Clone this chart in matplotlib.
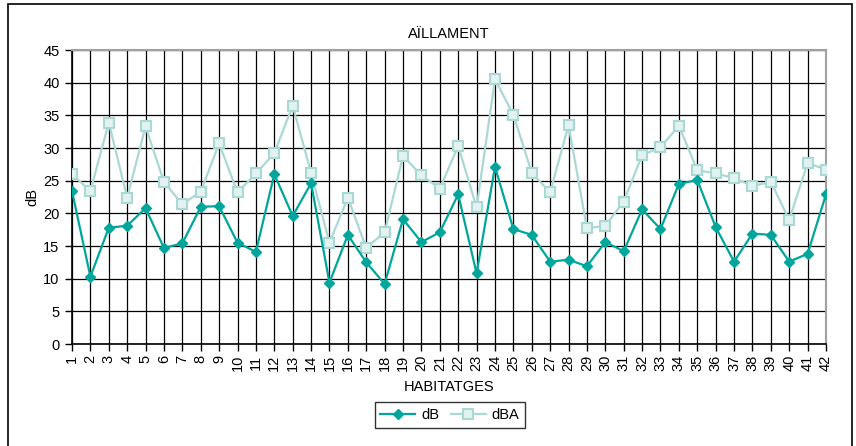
import matplotlib
matplotlib.use("Agg")
import matplotlib.pyplot as plt
from matplotlib.patches import Rectangle
from matplotlib import font_manager

habitatges = list(range(1, 43))
db = [23.4, 10.3, 17.8, 18.1, 20.8, 14.7, 15.4, 21.0, 21.1, 15.5,
      14.1, 26.0, 19.6, 24.6, 9.4, 16.7, 12.5, 9.2, 19.1, 15.6,
      17.1, 22.9, 10.8, 27.1, 17.6, 16.7, 12.6, 12.9, 11.9, 15.6,
      14.2, 20.6, 17.6, 24.5, 25.1, 17.9, 12.6, 16.9, 16.7, 12.6,
      13.8, 22.9]
dba = [26.0, 23.4, 33.9, 22.4, 33.3, 24.8, 21.4, 23.3, 30.7, 23.2,
       26.1, 29.2, 36.5, 26.2, 15.5, 22.4, 14.7, 17.1, 28.8, 25.8,
       23.8, 30.3, 20.9, 40.5, 35.1, 26.2, 23.2, 33.5, 17.7, 18.1,
       21.8, 28.9, 30.1, 33.4, 26.6, 26.1, 25.4, 24.2, 24.8, 19.0,
       27.7, 26.7]
yticks = list(range(0, 46, 5))

names = {f.name for f in font_manager.fontManager.ttflist}
fam = "Liberation Sans Narrow" if "Liberation Sans Narrow" in names else "Liberation Sans"
plt.rcParams["font.family"] = [fam, "DejaVu Sans"]

W, H = 856, 446
fig = plt.figure(figsize=(W / 100, H / 100), dpi=100)
# outer frame
fig.add_artist(Rectangle((8 / W, -0.05), (852 - 8) / W, 1.05 - 4 / H,
                         transform=fig.transFigure, fill=False,
                         edgecolor="black", linewidth=1.2))

ax = fig.add_axes([72 / W, 1 - 344 / H, (826 - 72) / W, (344 - 50) / H])
ax.set_xlim(1, 42)
ax.set_ylim(0, 45)
ax.set_yticks(yticks)
ax.set_xticks(habitatges)
ax.set_xticklabels([str(h) for h in habitatges], rotation=90, fontsize=10.5)
ax.tick_params(axis="y", labelsize=10.5, direction="out", length=5, width=1, pad=4)
ax.tick_params(axis="x", direction="out", length=5, width=1, pad=3)
ax.grid(True, color="black", linewidth=0.9)
ax.set_axisbelow(True)
for s in ["top", "right"]:
    ax.spines[s].set_color("#a0a0a0")
    ax.spines[s].set_linewidth(1.5)
for s in ["left", "bottom"]:
    ax.spines[s].set_color("black")
    ax.spines[s].set_linewidth(1.2)

ax.plot(habitatges, db, color="#00a69c", linewidth=1.6, marker="D",
        markersize=5.5, markerfacecolor="#00a69c", markeredgecolor="#00a69c",
        label="dB", zorder=4)
ax.plot(habitatges, dba, color="#a9d9d5", linewidth=1.6, marker="s",
        markersize=7, markerfacecolor="#e3f2f1", markeredgecolor="#a9d9d5",
        markeredgewidth=1.5, label="dBA", zorder=3)

ax.set_title("AÏLLAMENT", fontsize=10.5, pad=9)
ax.set_xlabel("HABITATGES", fontsize=10.5, labelpad=6)
ax.set_ylabel("dB", fontsize=10.5, labelpad=3)

leg = fig.legend(loc="center", bbox_to_anchor=(450 / W, 1 - 415 / H), ncol=2,
                 frameon=True, fancybox=False, edgecolor="black",
                 fontsize=10.5, handlelength=2.4, columnspacing=0.8,
                 handletextpad=0.4, borderpad=0.4)
leg.get_frame().set_linewidth(1.0)

fig.savefig("out.png", dpi=100)
